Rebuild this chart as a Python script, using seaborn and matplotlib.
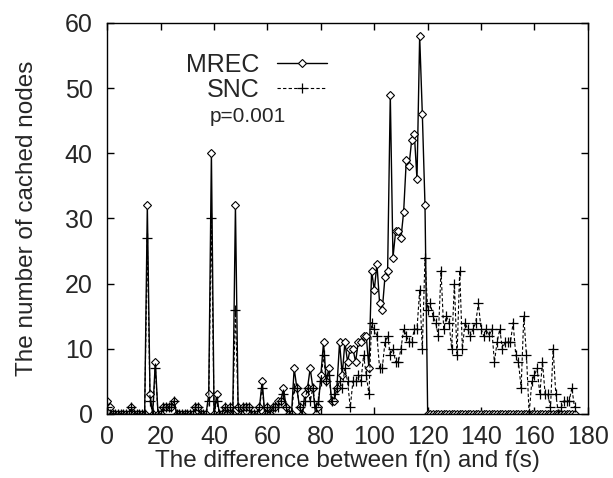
#!/usr/bin/env python3
"""
Cached nodes vs. difference between f(n) and f(s), MREC vs SNC
"""

import numpy as np
import pandas as pd
import matplotlib
matplotlib.use("Agg")
import matplotlib.pyplot as plt
import seaborn as sns

# x positions: difference between f(n) and f(s)
diff = list(range(0, 176))

# MREC values (solid line, diamond markers)
mrec = [2, 1, 0, 0, 0, 0, 0, 0, 0, 1,
        0, 0, 0, 0, 0, 32, 3, 0, 8, 0,
        0, 1, 1, 1, 1, 2, 0, 0, 0, 0,
        0, 0, 0, 1, 1, 0, 0, 0, 3, 40,
        0, 3, 0, 0, 1, 0, 1, 0, 32, 1,
        0, 1, 1, 1, 0, 0, 0, 1, 5, 0,
        1, 0, 1, 1, 2, 2, 4, 1, 0, 0,
        7, 4, 1, 0, 3, 4, 7, 4, 0, 1,
        6, 11, 5, 7, 2, 2, 4, 11, 6, 11,
        8, 10, 10, 8, 11, 11, 12, 12, 7, 22,
        19, 23, 17, 16, 21, 22, 49, 24, 28, 28,
        27, 31, 39, 38, 42, 43, 36, 58, 46, 32,
        0, 0, 0, 0, 0, 0, 0, 0, 0, 0,
        0, 0, 0, 0, 0, 0, 0, 0, 0, 0,
        0, 0, 0, 0, 0, 0, 0, 0, 0, 0,
        0, 0, 0, 0, 0, 0, 0, 0, 0, 0,
        0, 0, 0, 0, 0, 0, 0, 0, 0, 0,
        0, 0, 0, 0, 0, 0]

# SNC values (dashed line, plus markers)
snc = [1, 0, 0, 0, 0, 0, 0, 0, 0, 1,
       0, 0, 0, 0, 0, 27, 2, 0, 7, 0,
       0, 1, 1, 1, 1, 2, 0, 0, 0, 0,
       0, 0, 0, 1, 1, 0, 0, 0, 2, 30,
       0, 2, 0, 0, 1, 0, 1, 0, 16, 1,
       0, 1, 1, 1, 0, 0, 0, 1, 4, 0,
       1, 0, 1, 1, 1, 2, 3, 1, 0, 0,
       4, 4, 1, 0, 2, 4, 2, 4, 1, 2,
       5, 9, 5, 6, 2, 3, 4, 5, 4, 7,
       5, 1, 5, 5, 6, 5, 9, 6, 3, 14,
       13, 12, 7, 7, 11, 12, 9, 10, 8, 8,
       10, 13, 12, 11, 11, 13, 13, 19, 10, 24,
       16, 17, 15, 14, 12, 22, 13, 15, 14, 10,
       20, 9, 22, 10, 14, 13, 12, 13, 14, 17,
       13, 12, 13, 12, 13, 8, 11, 13, 10, 11,
       11, 11, 14, 9, 8, 4, 15, 9, 0, 5,
       6, 7, 3, 8, 3, 3, 1, 10, 3, 0,
       1, 2, 2, 2, 4, 1]

df_mrec = pd.DataFrame({"diff": diff, "nodes": mrec})
df_snc = pd.DataFrame({"diff": diff, "nodes": snc})

sns.set_style("ticks")
plt.rcParams["font.family"] = ["Liberation Sans", "DejaVu Sans"]

fig = plt.figure(figsize=(6.13, 4.78), dpi=100)
ax = fig.add_axes([0.175, 0.134, 0.784, 0.818])

sns.lineplot(data=df_mrec, x="diff", y="nodes", ax=ax, color="black",
             linewidth=1.0, marker="D", markersize=4, markerfacecolor="white",
             markeredgecolor="black", markeredgewidth=0.8, label="MREC")
sns.lineplot(data=df_snc, x="diff", y="nodes", ax=ax, color="black",
             linewidth=0.8, linestyle=(0, (3, 2)), marker="+", markersize=7,
             markeredgecolor="black", markeredgewidth=0.9, label="SNC")

ax.set_xlim(0, 180)
ax.set_ylim(0, 60)
ax.set_xticks(np.arange(0, 181, 20))
ax.set_yticks(np.arange(0, 61, 10))
ax.tick_params(direction="in", top=True, right=True, length=5,
               labelsize=18, width=1, color="black")
ax.tick_params(axis="x", pad=8)
ax.tick_params(axis="y", pad=10.5)
for s in ax.spines.values():
    s.set_linewidth(1.0)
    s.set_color("black")

ax.set_xlabel("The difference between f(n) and f(s)", fontsize=17.5, labelpad=1)
ax.set_ylabel("The number of cached nodes", fontsize=17.5, labelpad=19)

leg = ax.legend(loc="upper left", bbox_to_anchor=(0.143, 0.949), frameon=False,
                markerfirst=False, fontsize=18, handlelength=2.0,
                handletextpad=0.7, labelspacing=0.05, borderaxespad=0)
ax.text(0.214, 0.76, "p=0.001", transform=ax.transAxes, fontsize=15,
        ha="left", va="center")

plt.savefig("out.png", dpi=100)
plt.close()
